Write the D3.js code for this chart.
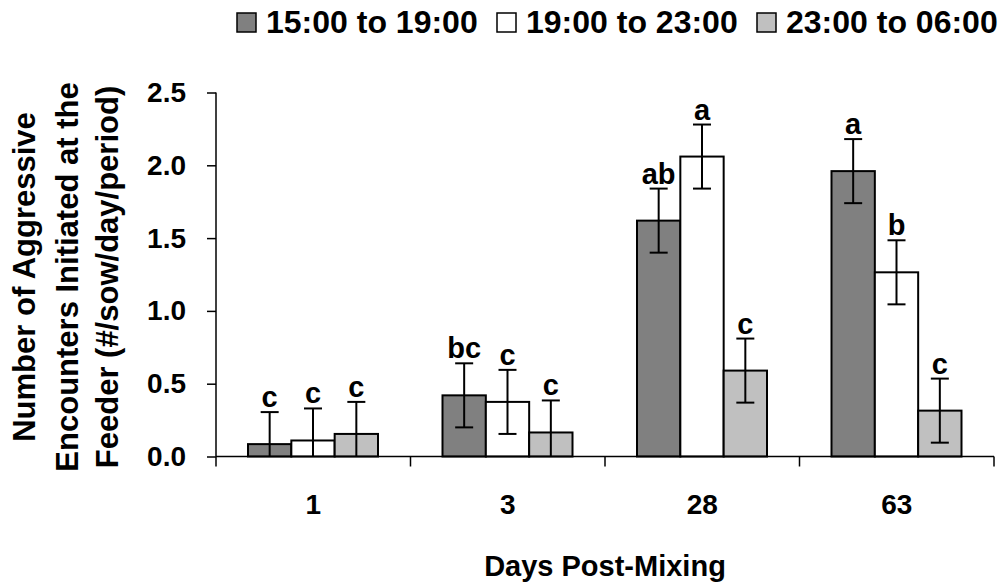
<!DOCTYPE html>
<html><head><meta charset="utf-8">
<script src="https://cdn.jsdelivr.net/npm/d3@7/dist/d3.min.js"></script>
<style>body{margin:0;background:#fff}svg text{font-family:"Liberation Sans",Arial,sans-serif;font-weight:bold;fill:#000}</style>
</head><body><svg id="c" width="1004" height="583"></svg>
<script>
const categories = ["1","3","28","63"];
const seriesNames = ["15:00 to 19:00","19:00 to 23:00","23:00 to 06:00"];
const seriesColors = ["#808080","#ffffff","#c0c0c0"];
const valuesA = [0.085, 0.42, 1.62, 1.96];
const valuesB = [0.11, 0.375, 2.06, 1.265];
const valuesC = [0.155, 0.165, 0.59, 0.315];
const errA = [0.22, 0.22, 0.22, 0.22];
const errB = [0.22, 0.22, 0.22, 0.22];
const errC = [0.22, 0.22, 0.22, 0.22];
const lettersA = ["c","bc","ab","a"];
const lettersB = ["c","c","a","b"];
const lettersC = ["c","c","c","c"];
const yTicks = [0,0.5,1.0,1.5,2.0,2.5];

const values=[valuesA,valuesB,valuesC], errs=[errA,errB,errC], letters=[lettersA,lettersB,lettersC];
const svg=d3.select("#c");
const x0=d3.scaleBand().domain(categories).range([216,994]);
const x1=d3.scaleBand().domain(d3.range(3)).range([32,162]);
const y=d3.scaleLinear().domain([0,2.5]).range([456.5,92.5]);

// bars
const data=[];
categories.forEach((c,i)=>{for(let s=0;s<3;s++)data.push({c,s,v:values[s][i],e:errs[s][i],l:letters[s][i]});});
const g=svg.append("g");
g.selectAll("rect").data(data).join("rect")
 .attr("x",d=>x0(d.c)+x1(d.s)).attr("width",x1.bandwidth())
 .attr("y",d=>y(d.v)).attr("height",d=>y(0)-y(d.v))
 .attr("fill",d=>seriesColors[d.s]).attr("stroke","#000").attr("stroke-width",2);
// error bars
const eg=g.selectAll("g.err").data(data).join("g").attr("class","err");
const cx=d=>x0(d.c)+x1(d.s)+x1.bandwidth()/2;
eg.append("line").attr("x1",cx).attr("x2",cx).attr("y1",d=>y(Math.max(0,d.v-d.e))).attr("y2",d=>y(d.v+d.e)).attr("stroke","#000").attr("stroke-width",2);
eg.append("line").attr("x1",d=>cx(d)-9).attr("x2",d=>cx(d)+9).attr("y1",d=>y(d.v+d.e)).attr("y2",d=>y(d.v+d.e)).attr("stroke","#000").attr("stroke-width",2);
eg.filter(d=>d.v-d.e>0).append("line").attr("x1",d=>cx(d)-9).attr("x2",d=>cx(d)+9).attr("y1",d=>y(d.v-d.e)).attr("y2",d=>y(d.v-d.e)).attr("stroke","#000").attr("stroke-width",2);
eg.append("text").attr("x",cx).attr("y",d=>y(d.v+d.e)-5).attr("text-anchor","middle").attr("font-size",29).text(d=>d.l);

// y axis
const ya=svg.append("g").attr("transform","translate(216,0)").call(d3.axisLeft(y).tickValues(yTicks).tickFormat(d3.format(".1f")).tickSize(9).tickPadding(21));
ya.select(".domain").attr("d","M0,92.5V456.5").attr("stroke","#000").attr("stroke-width",1.5);
ya.selectAll(".tick line").attr("stroke","#000").attr("stroke-width",1.5);
ya.selectAll(".tick text").attr("font-size",28).attr("font-family","Liberation Sans, Arial").attr("font-weight","bold").attr("fill","#000");

// x axis
const xa=svg.append("g").attr("transform","translate(0,456.5)");
xa.append("line").attr("x1",216).attr("x2",994).attr("stroke","#000").attr("stroke-width",1.5);
const bounds=categories.map(c=>x0(c)).concat([x0.range()[1]]);
xa.selectAll("line.t").data(bounds).join("line").attr("class","t").attr("x1",d=>d).attr("x2",d=>d).attr("y1",0).attr("y2",10).attr("stroke","#000").attr("stroke-width",1.5);
xa.selectAll("text").data(categories).join("text").attr("x",c=>x0(c)+x0.bandwidth()/2).attr("y",57).attr("text-anchor","middle").attr("font-size",28).text(c=>c);

// axis titles
svg.append("text").attr("x",605).attr("y",576).attr("text-anchor","middle").attr("font-size",29).text("Days Post-Mixing");
const yt=["Number of Aggressive","Encounters Initiated at the","Feeder (#/sow/day/period)"];
const ytx=[35,78,118];
svg.selectAll("text.yt").data(yt).join("text").attr("class","yt")
 .attr("transform",(d,i)=>`translate(${ytx[i]},277) rotate(-90)`).attr("text-anchor","middle").attr("font-size",31).text(d=>d);

// legend
const lx=[237,497,757];
const lg=svg.selectAll("g.leg").data(seriesNames).join("g").attr("class","leg").attr("transform",(d,i)=>`translate(${lx[i]},13)`);
lg.append("rect").attr("width",19).attr("height",19).attr("fill",(d,i)=>seriesColors[i]).attr("stroke","#000").attr("stroke-width",1.5);
lg.append("text").attr("x",29).attr("y",20).attr("font-size",32).text(d=>d);
</script></body></html>
